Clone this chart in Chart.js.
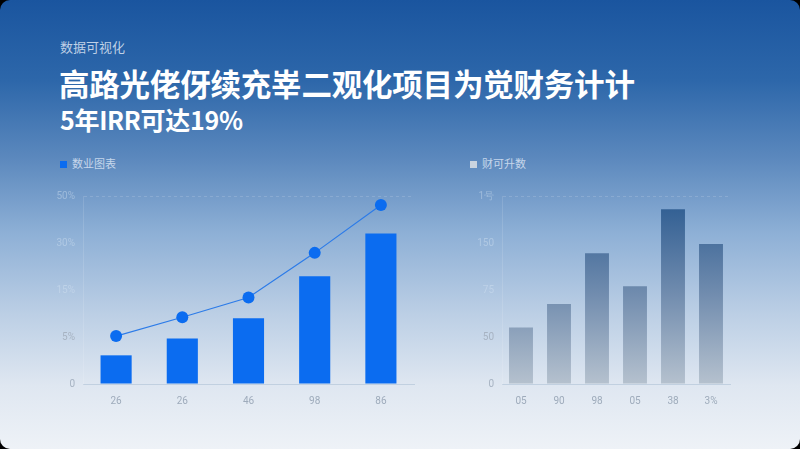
<!DOCTYPE html>
<html>
<head>
<meta charset="utf-8">
<script src="https://cdn.jsdelivr.net/npm/chart.js@4"></script>
<style>
  html, body { margin: 0; padding: 0; background: #000; }
  body { width: 800px; height: 449px; overflow: hidden; font-family: "Noto Sans CJK SC", "Noto Sans", sans-serif; }
  .card {
    position: relative; width: 800px; height: 449px; border-radius: 10px; overflow: hidden;
    background: linear-gradient(180deg, #1a559f 0%, #2d67aa 18%, #5b88bd 35%, #8eb0d6 52%, #bccfe5 70%, #dfe7f1 86%, #eef2f7 100%);
  }
  .kicker { position: absolute; left: 60px; top: 37px; font-size: 13px; color: rgba(235,242,250,0.78); }
  .title { position: absolute; left: 59px; top: 61px; font-size: 30.5px; font-weight: 700; color: #fff; letter-spacing: -0.2px; }
  .sub { position: absolute; left: 60px; top: 101px; font-size: 25px; font-weight: 700; color: #fff; letter-spacing: -0.3px; }
  .legend { position: absolute; top: 155px; font-size: 11px; color: rgba(225,235,248,0.8); }
  .legend i { display: inline-block; width: 7px; height: 7px; margin-right: 5px; vertical-align: 0px; }
  .box { position: absolute; }
</style>
</head>
<body>
<div class="card">
  <div class="kicker">数据可视化</div>
  <div class="title">高路光佬伢续充峷二观化项目为觉财务计计</div>
  <div class="sub">5年IRR可达19%</div>
  <div class="legend" style="left:60px"><i style="background:#0b6cf0"></i>数业图表</div>
  <div class="legend" style="left:470px"><i style="background:#c9d3df"></i>财可升数</div>
  <div class="box" style="left:44px; top:182px; width:376px; height:236px"><canvas id="leftChart"></canvas></div>
  <div class="box" style="left:460px; top:182px; width:275px; height:236px"><canvas id="rightChart"></canvas></div>
</div>
<script>
// Left chart data
const leftLabels = ["26", "26", "46", "98", "86"];
const leftBars = [6.1, 9.7, 14.0, 22.9, 32.0];
const leftLine = [10.2, 14.2, 18.4, 27.9, 38.1];
const leftTicks = ["0", "5%", "15%", "30%", "50%"];

// Right chart data
const rightLabels = ["05", "90", "98", "05", "38", "3%"];
const rightBars = [60, 85, 139, 104, 186, 149];
const rightTicks = ["0", "50", "75", "150", "1号"];

const xTickColor = "#9eabbb";
const tickFont = { family: "Roboto, 'Noto Sans'", size: 10 };

function yScale(max, step, labels, width) {
  return {
    min: 0, max: max,
    ticks: {
      stepSize: step, font: tickFont, padding: 8,
      color: c => c.index <= 1 ? "#a7b3c2" : "rgba(215,228,242,0.42)",
      callback: (v, i) => labels[i]
    },
    grid: {
      drawTicks: false,
      color: c => c.tick && c.tick.value === max ? "rgba(255,255,255,0.15)" : "transparent"
    },
    border: { display: true, color: "rgba(255,255,255,0.12)", dash: [3, 3] },
    afterFit: s => { s.width = width; }
  };
}

function xScale() {
  return {
    ticks: { color: xTickColor, font: tickFont, padding: 11 },
    grid: { display: false, drawTicks: false },
    border: { display: true, color: "rgba(190,205,222,0.9)" }
  };
}

new Chart(document.getElementById("leftChart").getContext("2d"), {
  data: {
    labels: leftLabels,
    datasets: [
      {
        type: "line",
        data: leftLine,
        borderColor: "#2c7be8",
        borderWidth: 1.2,
        pointRadius: 6,
        pointBackgroundColor: "#0b6cf0",
        pointBorderWidth: 0,
        tension: 0
      },
      {
        type: "bar",
        data: leftBars,
        backgroundColor: "#0b6cf0",
        categoryPercentage: 1,
        barPercentage: 0.47
      }
    ]
  },
  options: {
    responsive: true,
    maintainAspectRatio: false,
    animation: false,
    layout: { padding: { top: 6, right: 5 } },
    plugins: { legend: { display: false }, tooltip: { enabled: false } },
    scales: { x: xScale(), y: yScale(40, 10, leftTicks, 39) }
  }
});

new Chart(document.getElementById("rightChart").getContext("2d"), {
  type: "bar",
  data: {
    labels: rightLabels,
    datasets: [
      {
        data: rightBars,
        backgroundColor: c => {
          const area = c.chart.chartArea;
          if (!area) return "#7d93ad";
          const g = c.chart.ctx.createLinearGradient(0, area.top, 0, area.bottom);
          g.addColorStop(0, "#2a5a90");
          g.addColorStop(0.5, "#6e8aad");
          g.addColorStop(1, "#b5c1ce");
          return g;
        },
        categoryPercentage: 1,
        barPercentage: 0.63
      }
    ]
  },
  options: {
    responsive: true,
    maintainAspectRatio: false,
    animation: false,
    layout: { padding: { top: 6, right: 5 } },
    plugins: { legend: { display: false }, tooltip: { enabled: false } },
    scales: { x: xScale(), y: yScale(200, 50, rightTicks, 42) }
  }
});
</script>
</body>
</html>
